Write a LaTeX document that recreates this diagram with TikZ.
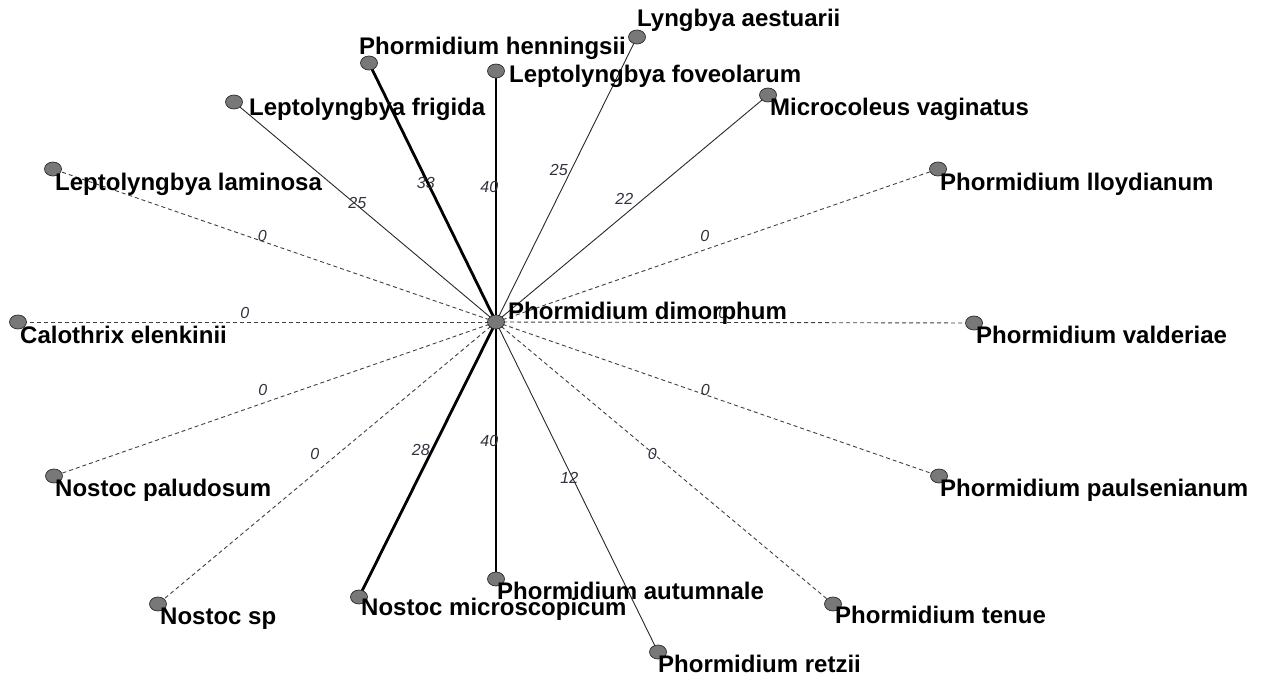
\documentclass[tikz,border=0pt]{standalone}
\usepackage{fontspec}
\setmainfont{Liberation Sans}
\usetikzlibrary{shapes.geometric,backgrounds}
\definecolor{vfill}{RGB}{120,120,120}
\definecolor{vline}{RGB}{40,40,40}
\definecolor{elabcol}{RGB}{50,50,62}
\tikzset{
  vert/.style={ellipse, draw=vline, fill=vfill, line width=0.7pt, minimum width=17pt, minimum height=14pt, inner sep=0pt},
  vname/.style={anchor=base west, inner sep=0pt, font=\fontsize{24}{28}\selectfont\bfseries},
  thinedge/.style={draw=vline, line width=0.9pt},
  thickedge/.style={draw=black, line width=2.8pt},
  zeroedge/.style={draw=black!75, line width=0.9pt, dash pattern=on 4pt off 3pt},
  elab/.style={pos=0.5, anchor=west, xshift=-17pt, yshift=9.5pt, inner sep=0pt, text=elabcol, font=\fontsize{16}{18}\selectfont\itshape}
}
\begin{document}
\begin{tikzpicture}[x=1pt,y=-1pt]
\useasboundingbox (0,0) rectangle (1263,677);
% vertices
\node[vert] (c)   at (496,322) {};
\node[vert] (hen) at (369,63) {};
\node[vert] (fov) at (496,71) {};
\node[vert] (lyn) at (637,37) {};
\node[vert] (mic) at (768,95) {};
\node[vert] (fri) at (234,102) {};
\node[vert] (lam) at (53,169) {};
\node[vert] (llo) at (938,169) {};
\node[vert] (cal) at (18,322) {};
\node[vert] (val) at (974,323) {};
\node[vert] (pal) at (54,476) {};
\node[vert] (pau) at (939,476) {};
\node[vert] (nsp) at (158,604) {};
\node[vert] (ten) at (833,604) {};
\node[vert] (nmi) at (359,597) {};
\node[vert] (aut) at (496,579) {};
\node[vert] (ret) at (658,652) {};
% edges
\begin{pgfonlayer}{background}
\draw[thinedge]  (c.center) -- (fri.center) node[elab] {25};
\draw[thickedge] (c.center) -- (hen.center) node[elab] {33};
\draw[thickedge] (c.center) -- (fov.center) node[elab] {40};
\draw[thinedge]  (c.center) -- (lyn.center) node[elab] {25};
\draw[thinedge]  (c.center) -- (mic.center) node[elab] {22};
\draw[zeroedge]  (c.center) -- (lam.center) node[elab] {0};
\draw[zeroedge]  (c.center) -- (llo.center) node[elab] {0};
\draw[zeroedge]  (c.center) -- (cal.center) node[elab] {0};
\draw[zeroedge]  (c.center) -- (val.center) node[elab] {0};
\draw[zeroedge]  (c.center) -- (pal.center) node[elab] {0};
\draw[zeroedge]  (c.center) -- (pau.center) node[elab] {0};
\draw[zeroedge]  (c.center) -- (nsp.center) node[elab] {0};
\draw[zeroedge]  (c.center) -- (ten.center) node[elab] {0};
\draw[thickedge] (c.center) -- (nmi.center) node[elab] {28};
\draw[thickedge] (c.center) -- (aut.center) node[elab] {40};
\draw[thinedge]  (c.center) -- (ret.center) node[elab] {12};
\end{pgfonlayer}
% vertex names
\node[vname] (tc)   at (508,319) {Phormidium dimorphum};
\node[vname] (then) at (359,55) {Phormidium henningsii};
\node[vname] (tfov) at (509,82) {Leptolyngbya foveolarum};
\node[vname] (tlyn) at (637,27) {Lyngbya aestuarii};
\node[vname] (tmic) at (770,115) {Microcoleus vaginatus};
\node[vname] (tfri) at (249,115) {Leptolyngbya frigida};
\node[vname] (tlam) at (55,190) {Leptolyngbya laminosa};
\node[vname] (tllo) at (940,190) {Phormidium lloydianum};
\node[vname] (tcal) at (20,343) {Calothrix elenkinii};
\node[vname] (tval) at (976,343) {Phormidium valderiae};
\node[vname] (tpal) at (55,496) {Nostoc paludosum};
\node[vname] (tpau) at (940,496) {Phormidium paulsenianum};
\node[vname] (tnsp) at (160,624) {Nostoc sp};
\node[vname] (tten) at (835,623) {Phormidium tenue};
\node[vname] (tnmi) at (361,615) {Nostoc microscopicum};
\node[vname] (taut) at (497,599) {Phormidium autumnale};
\node[vname] (tret) at (658,672) {Phormidium retzii};
\end{tikzpicture}
\end{document}
